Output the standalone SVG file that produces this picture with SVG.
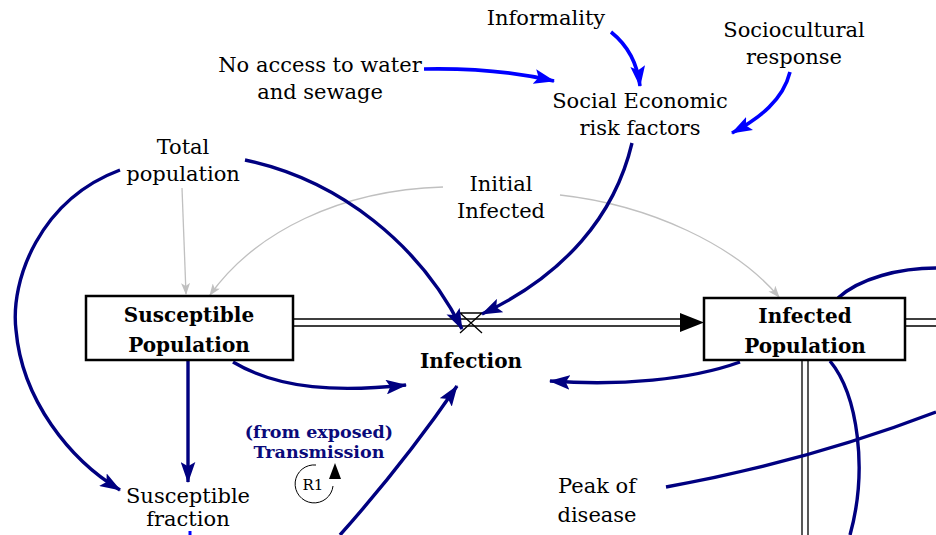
<svg xmlns="http://www.w3.org/2000/svg" width="936" height="535" viewBox="0 0 936 535">
<style>
text{font-family:"DejaVu Serif","Liberation Serif",serif;fill:#000;text-anchor:middle}
.lbl{font-size:21px}
.stock{font-size:20px;font-weight:bold}
.loop{font-size:17.5px;font-weight:bold;fill:#0a0a7a}
.navy{fill:none;stroke:#000080;stroke-width:3.4}
.blue{fill:none;stroke:#0000ff;stroke-width:3.6}
.gray{fill:none;stroke:#c0c0c0;stroke-width:1.3}
.box{fill:#fff;stroke:#000;stroke-width:2.5}
.pipe{fill:none;stroke:#000;stroke-width:1.3}
</style>
<defs>
<marker id="an" viewBox="0 0 20 14" refX="19" refY="7" markerWidth="21" markerHeight="15" orient="auto" markerUnits="userSpaceOnUse"><path d="M0,0 L20,7 L0,14 L4,7 Z" fill="#000080"/></marker>
<marker id="ab" viewBox="0 0 20 14" refX="19" refY="7" markerWidth="21" markerHeight="15" orient="auto" markerUnits="userSpaceOnUse"><path d="M0,0 L20,7 L0,14 L4,7 Z" fill="#0000ff"/></marker>
<marker id="ag" viewBox="0 0 12 9" refX="11" refY="4.5" markerWidth="12" markerHeight="9" orient="auto" markerUnits="userSpaceOnUse"><path d="M0,0 L12,4.5 L0,9 L3,4.5 Z" fill="#c0c0c0"/></marker>
</defs>

<g id="flows">
<path class="pipe" d="M293,319 H682 M293,326 H682"/>
<path d="M680,313 L704,322.5 L680,332 Z" fill="#000"/>
<path class="pipe" d="M905,319 H936 M905,326 H936"/>
<path class="pipe" d="M802,360 V535 M808,360 V535"/>
<g id="valve">
<path d="M460,313 H482 M482,313 L460,333 M460,313 L482,333" fill="none" stroke="#000" stroke-width="1.3"/>
</g>
</g>

<g id="connectors">
<path class="gray" d="M182,188 L186,294" marker-end="url(#ag)"/>
<path class="gray" d="M443,187 C340,190 255,232 210,295" marker-end="url(#ag)"/>
<path class="gray" d="M560,195 C650,205 735,245 779,297" marker-end="url(#ag)"/>

<path class="blue" d="M424,69 C470,68 515,72 554,81" marker-end="url(#ab)"/>
<path class="blue" d="M611,32 C626,44 637,60 640,86" marker-end="url(#ab)"/>
<path class="blue" d="M790,72 C783,100 760,118 732,133" marker-end="url(#ab)"/>

<path class="navy" d="M632,143 C615,215 565,275 482,314" marker-end="url(#an)"/>
<path class="navy" d="M245,160 C340,180 420,245 462,329" marker-end="url(#an)"/>
<path class="navy" d="M120,170 C40,200 10,280 16,330 C22,400 70,460 120,490" marker-end="url(#an)"/>
<path class="navy" d="M188,361 L188,482" marker-end="url(#an)"/>
<path class="navy" d="M233,362 C280,390 340,392 406,385" marker-end="url(#an)"/>
<path class="navy" d="M740,362 C690,380 620,386 550,381" marker-end="url(#an)"/>
<path class="navy" d="M340,535 C380,490 420,440 457,386" marker-end="url(#an)"/>
<path class="navy" d="M838,298 C860,278 900,268 936,268"/>
<path class="navy" d="M830,361 C858,395 868,470 850,535"/>
<path class="navy" d="M666,487 C760,470 850,445 936,412"/>
<path d="M190,531 L190,535" stroke="#0000ff" stroke-width="3"/>
</g>

<g id="informality"><text class="lbl" x="546" y="25">Informality</text></g>
<g id="sociocultural"><text class="lbl" x="794" y="37">Sociocultural</text><text class="lbl" x="794" y="64">response</text></g>
<g id="noaccess"><text class="lbl" x="320" y="72">No access to water</text><text class="lbl" x="320" y="99">and sewage</text></g>
<g id="riskfactors"><text class="lbl" x="640" y="108">Social Economic</text><text class="lbl" x="640" y="135">risk factors</text></g>
<g id="totalpop"><text class="lbl" x="183" y="154">Total</text><text class="lbl" x="183" y="181">population</text></g>
<g id="initialinfected"><text class="lbl" x="501" y="191">Initial</text><text class="lbl" x="501" y="218">Infected</text></g>

<g id="susceptible">
<rect class="box" x="86" y="296" width="207" height="64"/>
<text class="stock" x="189" y="322">Susceptible</text>
<text class="stock" x="189" y="352">Population</text>
</g>
<g id="infected">
<rect class="box" x="704" y="298" width="201" height="62"/>
<text class="stock" x="805" y="323">Infected</text>
<text class="stock" x="805" y="353">Population</text>
</g>
<g id="infection"><text class="stock" x="471" y="368">Infection</text></g>

<g id="loopR1">
<text class="loop" x="319" y="438">(from exposed)</text>
<text class="loop" x="319" y="458">Transmission</text>
<path d="M316,465 A19,19 0 1,0 333,486" fill="none" stroke="#000" stroke-width="1"/>
<path d="M335,463 L341,479 L329,479 Z" fill="#000"/>
<text x="313" y="490" style="font-size:15px">R1</text>
</g>

<g id="suscfraction"><text class="lbl" x="188" y="503">Susceptible</text><text class="lbl" x="188" y="526">fraction</text></g>
<g id="peak"><text class="lbl" x="597" y="493">Peak of</text><text class="lbl" x="597" y="522">disease</text></g>
</svg>
